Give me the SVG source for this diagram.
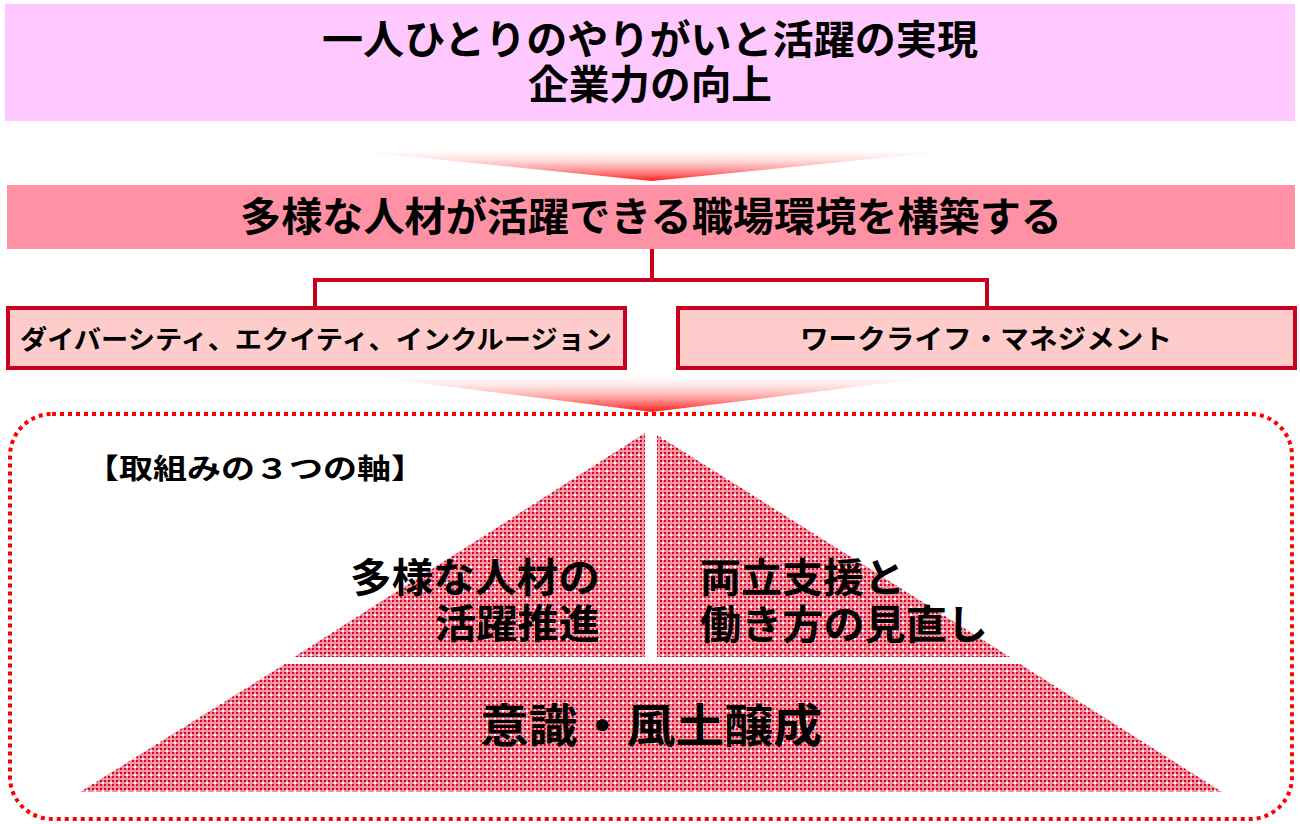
<svg xmlns="http://www.w3.org/2000/svg" width="1300" height="824" viewBox="0 0 1300 824">
<style>
text{font-family:"Noto Sans CJK JP","Noto Sans CJK SC",sans-serif;font-weight:bold;fill:#000;dominant-baseline:central}
.box{fill:#ffcccc;stroke:#c8001e;stroke-width:4}
.conn{fill:none;stroke:#c8001e;stroke-width:4}
.pyr{fill:url(#dots)}
</style>
<defs>
<linearGradient id="fade" x1="0" y1="0" x2="0" y2="1">
<stop offset="0" stop-color="#ffffff" stop-opacity="0"/>
<stop offset="1" stop-color="#ff1a1a"/>
</linearGradient>
<pattern id="dots" width="8" height="8" patternUnits="userSpaceOnUse">
<rect width="8" height="8" fill="#ec96a5"/>
<rect x="0" y="0" width="2" height="2" fill="#e0001c"/>
<rect x="4" y="0" width="2" height="2" fill="#e0001c"/>
<rect x="0" y="4" width="2" height="2" fill="#e0001c"/>
<rect x="4" y="4" width="2" height="2" fill="#e0001c"/>
<rect x="2" y="2" width="1" height="1" fill="#f8d0d6"/>
<rect x="6" y="6" width="2" height="2" fill="#ffffff"/>
</pattern>
</defs>
<rect width="1300" height="824" fill="#ffffff"/>

<g id="goal">
<rect x="5" y="4" width="1290" height="117" fill="#ffc8ff"/>
<text x="650" y="37" text-anchor="middle" font-size="40" textLength="656" lengthAdjust="spacingAndGlyphs">一人ひとりのやりがいと活躍の実現</text>
<text x="650" y="82" text-anchor="middle" font-size="40" textLength="244" lengthAdjust="spacingAndGlyphs">企業力の向上</text>
</g>

<g id="arrows">
<polygon points="315,147 990,147 652,181" fill="url(#fade)"/>
<polygon points="330,372 975,372 652,412" fill="url(#fade)"/>
</g>

<g id="policy">
<rect x="7" y="185" width="1288" height="64" fill="#ff91a4"/>
<text x="651" y="214" text-anchor="middle" font-size="40" textLength="822" lengthAdjust="spacingAndGlyphs">多様な人材が活躍できる職場環境を構築する</text>
</g>

<g id="connectors">
<polyline class="conn" points="652,249 652,280"/>
<polyline class="conn" points="315,308 315,280 987,280 987,308"/>
</g>

<g id="dei">
<rect class="box" x="8" y="308" width="617" height="60"/>
<text x="316" y="337" text-anchor="middle" font-size="26" textLength="592" lengthAdjust="spacingAndGlyphs">ダイバーシティ、エクイティ、インクルージョン</text>
</g>

<g id="wlm">
<rect class="box" x="678" y="308" width="617" height="60"/>
<text x="986" y="337" text-anchor="middle" font-size="27" textLength="372" lengthAdjust="spacingAndGlyphs">ワークライフ・マネジメント</text>
</g>

<g id="axes">
<rect x="10" y="414" width="1282" height="405" rx="42" ry="42" fill="none" stroke="#ff0000" stroke-width="4" stroke-dasharray="4 4"/>
<text x="85" y="467" font-size="28" textLength="340" lengthAdjust="spacingAndGlyphs">【取組みの３つの軸】</text>
</g>

<g id="axis-diversity">
<polygon class="pyr" points="645,433 645,657 294,657"/>
<text x="600" y="575" text-anchor="end" font-size="40" textLength="250" lengthAdjust="spacingAndGlyphs">多様な人材の</text>
<text x="600" y="621" text-anchor="end" font-size="40" textLength="165" lengthAdjust="spacingAndGlyphs">活躍推進</text>
</g>

<g id="axis-balance">
<polygon class="pyr" points="657,435 657,657 1010,657"/>
<text x="700" y="575" font-size="40" textLength="205" lengthAdjust="spacingAndGlyphs">両立支援と</text>
<text x="700" y="622" font-size="40" textLength="288" lengthAdjust="spacingAndGlyphs">働き方の見直し</text>
</g>

<g id="axis-culture">
<polygon class="pyr" points="285,664 1020,664 1222,792 80,792"/>
<text x="651" y="722" text-anchor="middle" font-size="46" textLength="342" lengthAdjust="spacingAndGlyphs">意識・風土醸成</text>
</g>
</svg>
